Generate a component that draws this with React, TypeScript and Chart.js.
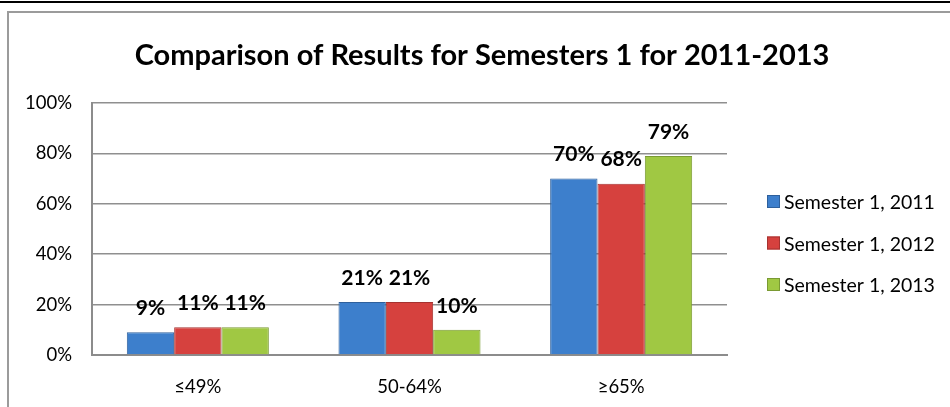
import React, { useEffect, useRef } from "react";
import { Chart, registerables } from "chart.js";

Chart.register(...registerables);

const categories = ["≤49%", "50-64%", "≥65%"];
const seriesNames = ["Semester 1, 2011", "Semester 1, 2012", "Semester 1, 2013"];
const sem2011 = [9, 21, 70];
const sem2012 = [11, 21, 68];
const sem2013 = [11, 10, 79];
const yTicks = [0, 20, 40, 60, 80, 100];
const titleText = "Comparison of Results for Semesters 1 for 2011-2013";

const fills = ["#3D7FCC", "#D6413E", "#A0C843"];
const borders = ["#2E609C", "#A53230", "#7A9A33"];

const FONT = "Lato, 'Open Sans', sans-serif";

const dataLabelPlugin = {
  id: "valueLabels",
  afterDatasetsDraw(chart: any) {
    const ctx = chart.ctx;
    ctx.save();
    ctx.font = `bold 21px ${FONT}`;
    ctx.fillStyle = "#000";
    ctx.textAlign = "center";
    ctx.textBaseline = "middle";
    chart.data.datasets.forEach((ds: any, i: number) => {
      const meta = chart.getDatasetMeta(i);
      meta.data.forEach((bar: any, j: number) => {
        ctx.fillText(ds.data[j] + "%", bar.x, bar.y - 24);
      });
    });
    ctx.restore();
  },
};

const titlePlugin = {
  id: "centeredTitle",
  afterDraw(chart: any) {
    const ctx = chart.ctx;
    ctx.save();
    ctx.font = `bold 29px ${FONT}`;
    ctx.fillStyle = "#000";
    ctx.textAlign = "center";
    ctx.textBaseline = "middle";
    ctx.fillText(titleText, chart.width / 2, 56);
    ctx.restore();
  },
};

const sideLegendPlugin = {
  id: "sideLegend",
  afterDraw(chart: any) {
    const ctx = chart.ctx;
    const area = chart.chartArea;
    ctx.save();
    ctx.font = `19.5px ${FONT}`;
    ctx.textAlign = "left";
    ctx.textBaseline = "middle";
    chart.data.datasets.forEach((ds: any, i: number) => {
      const cy = area.top + 99 + i * 41.5;
      const x = area.right + 40;
      ctx.fillStyle = ds.backgroundColor;
      ctx.fillRect(x, cy - 7, 13, 13);
      ctx.strokeStyle = ds.borderColor;
      ctx.lineWidth = 1;
      ctx.strokeRect(x + 0.5, cy - 6.5, 12, 12);
      ctx.fillStyle = "#000";
      ctx.fillText(ds.label, x + 17, cy + 1);
    });
    ctx.restore();
  },
};

export default function App() {
  const ref = useRef<HTMLCanvasElement | null>(null);

  useEffect(() => {
    document.body.style.margin = "0";
    if (!ref.current) return;
    const values = [sem2011, sem2012, sem2013];
    const chart = new Chart(ref.current, {
      type: "bar",
      data: {
        labels: categories,
        datasets: values.map((v, i) => ({
          label: seriesNames[i],
          data: v,
          backgroundColor: fills[i],
          borderColor: borders[i],
          borderWidth: 1,
          categoryPercentage: 0.671,
          barPercentage: 1,
        })),
      },
      options: {
        responsive: false,
        animation: false,
        devicePixelRatio: 1,
        layout: { padding: { left: 0, right: 230, top: 103, bottom: 0 } },
        plugins: {
          legend: { display: false },
          tooltip: { enabled: false },
          title: { display: false },
        },
        scales: {
          x: {
            grid: { display: false, drawTicks: false },
            border: { display: true, color: "#8c8c8c", width: 2 },
            ticks: {
              color: "#000",
              font: { family: FONT, size: 18.5 },
              padding: 21,
            },
            afterFit: (s: any) => {
              s.height = 52;
            },
          },
          y: {
            min: 0,
            max: 100,
            afterBuildTicks: (s: any) => {
              s.ticks = yTicks.map((v) => ({ value: v }));
            },
            grid: { color: "#8f8f8f", lineWidth: 1.5, drawTicks: false },
            border: { display: true, color: "#8c8c8c", width: 2 },
            ticks: {
              color: "#000",
              font: { family: FONT, size: 18.5 },
              padding: 20,
              callback: (v: any) => v + "%",
            },
            afterFit: (s: any) => {
              s.width = 85;
            },
          },
        },
      },
      plugins: [dataLabelPlugin, titlePlugin, sideLegendPlugin],
    });
    return () => chart.destroy();
  }, []);

  return (
    <div style={{ position: "relative", width: 950, height: 407, overflow: "hidden", background: "#fff" }}>
      <div style={{ position: "absolute", left: 0, top: 1, width: 950, height: 2, background: "#000" }} />
      <div
        style={{
          position: "absolute",
          left: 7,
          top: 11,
          width: 1000,
          height: 500,
          borderLeft: "2px solid #9b9b9b",
          borderTop: "2px solid #9b9b9b",
        }}
      />
      <canvas ref={ref} width={950} height={407} style={{ position: "absolute", left: 7, top: 0 }} />
    </div>
  );
}
